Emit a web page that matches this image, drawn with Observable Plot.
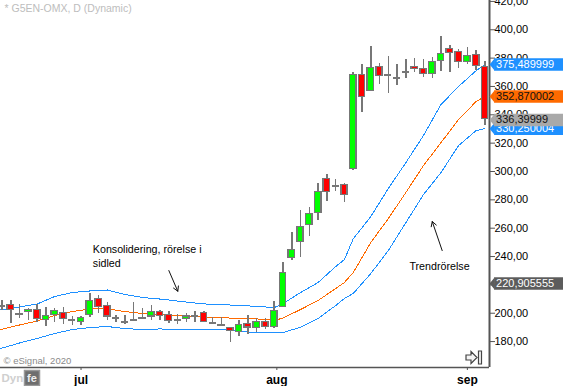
<!DOCTYPE html>
<html><head><meta charset="utf-8">
<script src="https://cdn.jsdelivr.net/npm/d3@7"></script>
<script src="https://cdn.jsdelivr.net/npm/@observablehq/plot@0.6"></script>
<style>html,body{margin:0;padding:0;background:#fff;overflow:hidden}svg{display:block}</style>
</head><body>
<script>
const yTicks = [180,200,220,240,260,280,300,320,340,360,380,400,420];
const monthIdx = [8,30.3,52];
const monthNames = ["jul","aug","sep"];

// candles, index -1 .. 54 : [open, high, low, close]
const firstIndex = -1;
const opens = [205.4,205.9,199.3,200.7,202.4,195.1,198.9,200.3,194.9,193.9,198.6,210.2,205.2,196.5,194.1,195.1,196.5,197.7,201.0,198.9,195.1,195.8,197.9,200.3,193.4,192.0,189.7,186.6,192.5,189.4,193.9,190.4,204.5,238.8,250.4,262.4,270.8,294.8,289.6,290.6,301.7,368.2,356.9,373.8,367.9,366.3,370.0,373.8,372.4,368.9,378.1,386.5,384.4,377.4,382.3,373.8];
const highs = [209.0,209.0,206.1,203.1,206.1,203.8,203.1,203.8,197.7,197.7,213.7,212.5,207.8,198.4,198.4,207.3,203.1,205.4,201.9,201.2,198.9,199.6,201.2,201.2,197.2,197.2,190.1,194.9,198.4,196.0,196.0,208.3,235.8,257.1,272.5,274.8,291.3,297.9,294.3,291.7,370.0,375.4,388.2,376.2,381.1,375.4,379.0,379.7,379.0,380.4,395.2,388.9,386.0,387.4,385.4,377.6];
const lows = [201.9,192.5,196.0,194.9,193.7,190.8,193.7,192.0,191.3,191.3,196.8,199.6,194.9,193.7,192.0,194.4,195.6,194.9,194.9,192.9,192.0,193.7,193.7,193.4,192.5,191.3,179.5,183.6,184.8,186.6,188.5,189.4,204.0,237.2,239.3,254.3,265.4,279.0,286.1,278.3,300.7,341.6,356.9,361.6,355.2,360.8,365.8,370.0,366.5,365.8,370.3,370.0,372.8,375.2,371.2,332.4];
const closes = [205.4,202.4,199.3,202.4,196.0,198.2,201.7,196.0,194.9,196.8,208.7,204.5,197.7,196.5,194.1,195.1,196.5,201.0,198.2,194.6,195.1,197.7,197.9,193.9,193.4,192.0,187.6,191.8,190.1,193.9,190.4,201.7,228.5,244.7,261.0,270.1,285.6,285.6,289.6,283.5,368.2,352.7,373.1,367.5,367.9,366.3,370.0,372.4,368.9,377.4,383.0,383.7,377.4,381.6,374.5,337.1];

// moving-average channel
const bandIdx = [-1.17,1,3,5,7,9,11,13,15,17,19,21,23,25,27,29,30,31,33,35,37,38,39,41,43,45,47,49,51,53,54];
const upper = [202.3,204.4,206.5,211.8,214.6,215.7,216.4,213.2,211.1,210.0,208.6,207.2,206.1,205.8,205.2,204.4,204.0,206.8,214.6,221.7,232.9,237.9,252.5,268.2,288.0,306.3,325.4,347.3,360.0,371.2,375.49];
const middle = [188.5,191.7,194.5,198.4,201.2,203.0,203.0,201.2,199.8,199.1,198.4,197.7,197.0,196.6,196.3,195.6,194.9,196.6,202.6,209.0,217.4,221.7,228.7,249.9,266.8,285.2,304.2,320.4,336.7,349.4,352.87];
const lower = [175.1,179.0,182.2,185.7,188.5,189.9,190.6,189.2,188.5,188.9,188.5,188.5,188.5,188.1,186.7,186.4,186.2,186.4,190.1,196.3,205.4,210.4,213.9,228.0,244.2,264.0,283.7,299.3,318.3,328.9,330.25];

// value tags on the price axis
const tagValues = [375.489999,352.870002,330.250004,336.39999,220.905555];
const tagTexts = ["375,489999","352,870002","330,250004","336,39999","220,905555"];
const tagFills = ["#1e90ff","#ff6a00","#1e90ff","#a9a9a9","#5c5c5c"];
const tagInk = ["#fff","#111","#fff","#111","#fff"];

const noteX = [9.34,9.34,45.4];
const noteY = [244.7,235.1,232.9];
const noteTexts = ["Konsolidering, rörelse i","sidled","Trendrörelse"];
const arrowStart = [[18.0,230.1],[49.13,244.2]];
const arrowEnd = [[19.02,215.5],[48.0,264.7]];

const candles = opens.map((o,k)=>({i:firstIndex+k,o,h:highs[k],l:lows[k],c:closes[k]}));
const band = a => a.map((v,k)=>({i:bandIdx[k],v}));
const tags = tagValues.map((v,k)=>({v,t:tagTexts[k],f:tagFills[k],ink:tagInk[k]}));
const notes = noteTexts.map((t,k)=>({t,x:noteX[k],y:noteY[k]}));
const arrows = arrowStart.map((s,k)=>({x1:s[0],y1:s[1],x2:arrowEnd[k][0],y2:arrowEnd[k][1]}));

const xDom = [-1.173,54.52], yDom = [161.7,420.66];
const tagX1 = 55.1, tagX2 = 63, tipX = 55.1, textX = 55.27;
const tip = {draw(c){c.moveTo(-5,0);c.lineTo(0,-6);c.lineTo(0,6);c.closePath();}};
const goBtn = {draw(c){
  c.moveTo(-8,-2.5);c.lineTo(-3,-2.5);c.lineTo(-3,-6);c.lineTo(3,0);c.lineTo(-3,6);c.lineTo(-3,2.5);c.lineTo(-8,2.5);c.closePath();
  c.moveTo(4.5,-6.5);c.lineTo(7.5,-6.5);c.lineTo(7.5,6.5);c.lineTo(4.5,6.5);c.closePath();
}};
const squareBtn = {draw(c){c.rect(-7.5,-7.5,15,15);}};
const FONT = "Liberation Sans, Arial, sans-serif";
const crisp = {shapeRendering:"crispEdges"};

const chart = Plot.plot({
  width:563,height:386,marginLeft:0,marginRight:74,marginTop:0,marginBottom:19,
  style:{fontFamily:FONT,background:"#fff",overflow:"hidden"},
  x:{domain:xDom,axis:null},
  y:{domain:yDom,axis:null},
  marks:[
    Plot.line(band(upper),{x:"i",y:"v",stroke:"#1e90ff",strokeWidth:1,...crisp}),
    Plot.line(band(middle),{x:"i",y:"v",stroke:"#ff6a00",strokeWidth:1,...crisp}),
    Plot.line(band(lower),{x:"i",y:"v",stroke:"#1e90ff",strokeWidth:1,...crisp}),
    Plot.ruleX(candles,{x:"i",y1:"l",y2:"h",stroke:"#777",strokeWidth:1.5,...crisp}),
    Plot.rect(candles.filter(d=>d.o!==d.c),{
      x1:d=>d.i-0.36,x2:d=>d.i+0.36,y1:"o",y2:"c",
      fill:d=>d.c>d.o?"#00ff00":"#ff0000",stroke:"#777",strokeWidth:1.5,...crisp
    }),
    Plot.ruleY(candles.filter(d=>d.o===d.c),{
      x1:d=>d.i-0.41,x2:d=>d.i+0.41,y:"o",stroke:"#777",strokeWidth:2,...crisp
    }),
    Plot.ruleX([xDom[1]],{stroke:"#555",strokeWidth:2}),
    Plot.ruleY([yDom[0]],{stroke:"#555",strokeWidth:1.5}),
    Plot.axisY({anchor:"right",ticks:yTicks,tickSize:5,tickPadding:0,stroke:"#555",fill:"#000",fontSize:11,
      tickFormat:d=>d.toFixed(2).replace(".",","),label:null,textAnchor:"start"}),
    Plot.axisX({ticks:monthIdx,tickSize:3,tickPadding:5,stroke:"#555",fill:"#000",fontSize:12,fontWeight:"bold",
      tickFormat:d=>monthNames[monthIdx.indexOf(d)],label:null}),
    ...tags.flatMap(d=>[
      Plot.ruleY([d],{y:"v",x1:tagX1,x2:tagX2,stroke:"f",strokeWidth:12.5}),
      Plot.dot([d],{x:tipX,y:"v",symbol:tip,fill:"f",stroke:null,r:5}),
      Plot.text([d],{x:textX,y:"v",text:"t",fill:"ink",textAnchor:"start",fontSize:11})
    ]),
    Plot.text(notes,{x:"x",y:"y",text:"t",textAnchor:"start",fill:"#000",fontSize:10.7}),
    Plot.arrow(arrows,{x1:"x1",y1:"y1",x2:"x2",y2:"y2",stroke:"#111",strokeWidth:1,headLength:8,bend:0}),
    Plot.text(["* G5EN-OMX, D (Dynamic)"],{frameAnchor:"top-left",dx:4,dy:4,textAnchor:"start",fill:"#bdbdbd",fontSize:10.5}),
    Plot.text(["© eSignal, 2020"],{frameAnchor:"bottom-left",dx:3,dy:-4,textAnchor:"start",fill:"#8a8a8a",fontSize:9.5}),
    Plot.text(["Dyn"],{frameAnchor:"bottom-left",dx:1,dy:14.5,textAnchor:"start",fill:"#cfcfcf",fontSize:11.5,fontWeight:"bold"}),
    Plot.dot([0],{frameAnchor:"bottom-left",dx:31.5,dy:10.5,symbol:squareBtn,fill:"#6e6e6e",stroke:"#999",r:5}),
    Plot.text(["fe"],{frameAnchor:"bottom-left",dx:26.5,dy:14.5,textAnchor:"start",fill:"#eee",fontSize:11,fontWeight:"bold"}),
    Plot.dot([0],{frameAnchor:"bottom-right",dx:-15.5,dy:-10,symbol:goBtn,fill:"#f4f4f4",stroke:"#444",strokeWidth:1.2,r:5})
  ]
});
document.body.appendChild(chart);
</script>
</body></html>
